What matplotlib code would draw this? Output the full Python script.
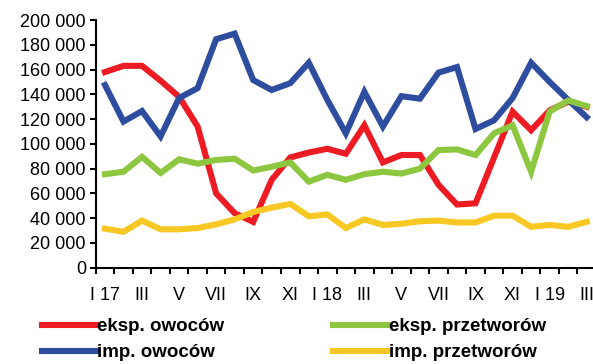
import matplotlib
matplotlib.use("Agg")
import matplotlib.pyplot as plt
from matplotlib.ticker import FuncFormatter

plt.rcParams['font.family'] = ['Liberation Sans', 'DejaVu Sans']

# months I 2017 .. III 2019
months = ['I 17', 'II', 'III', 'IV', 'V', 'VI', 'VII', 'VIII', 'IX', 'X', 'XI', 'XII',
          'I 18', 'II', 'III', 'IV', 'V', 'VI', 'VII', 'VIII', 'IX', 'X', 'XI', 'XII',
          'I 19', 'II', 'III']

eksp_owocow = [158000, 163000, 163000, 151000, 138000, 114000, 60000, 44000, 37000,
               71000, 89000, 93000, 96000, 92000, 115000, 85000, 91000, 91000,
               67000, 51000, 52000, 89000, 126000, 111000, 127000, 134000, 130000]
imp_owocow = [147500, 118000, 126500, 106000, 137000, 145000, 184500, 189000, 151500,
              143500, 149000, 165500, 135500, 108500, 142000, 114000, 138500, 136500,
              157500, 162000, 112000, 119000, 137000, 165500, 150000, 135500, 121500]
eksp_przetw = [75500, 77500, 89500, 76500, 87500, 84000, 87000, 88000, 78500,
               81500, 85000, 69500, 75000, 71000, 75500, 77500, 76000, 80000,
               95000, 95500, 91000, 108500, 115000, 77500, 126000, 135000, 130500]
imp_przetw = [31500, 29000, 38000, 31000, 31000, 32000, 35000, 39000, 45000,
              48500, 51500, 41500, 43000, 32000, 39000, 34500, 35500, 37500,
              38000, 36500, 36500, 42000, 42000, 33000, 34500, 33000, 37000]

series = [
    ('eksp. owoców', eksp_owocow, '#ED1C24'),
    ('imp. owoców', imp_owocow, '#2E4D9F'),
    ('eksp. przetworów', eksp_przetw, '#8DC63F'),
    ('imp. przetworów', imp_przetw, '#F7C824'),
]

fig = plt.figure(figsize=(5.93, 3.64), dpi=100)
ax = fig.add_axes([0.1614, 0.2646, 0.8436, 0.6804])

x = list(range(len(months)))
for name, vals, col in series:
    ax.plot(x, vals, color=col, lw=4.4, label=name, solid_joinstyle='miter')

ax.set_xlim(-0.5, len(months) - 0.5)
ax.set_ylim(0, 200000)
ax.set_yticks(range(0, 200001, 20000))
ax.yaxis.set_major_formatter(FuncFormatter(lambda v, p: f'{int(v):,}'.replace(',', ' ')))

# tick marks between months, labels every second month
ax.set_xticks([i - 0.5 for i in range(len(months) + 1)])
ax.set_xticklabels([])
ax.set_xticks(x[::2], minor=True)
ax.set_xticklabels(months[::2], minor=True)
ax.tick_params(axis='x', which='major', direction='out', length=4, width=1.5)
ax.tick_params(axis='x', which='minor', length=0, pad=14, labelsize=13)
ax.tick_params(axis='y', direction='out', length=4, width=1.5, labelsize=13, pad=3)

for s in ['top', 'right']:
    ax.spines[s].set_visible(False)
for s in ['left', 'bottom']:
    ax.spines[s].set_linewidth(1.5)

fig.legend(loc='upper left', bbox_to_anchor=(0.071, 0.126), ncol=2, frameon=False,
           prop={'weight': 'bold', 'size': 13.5}, handlelength=2.85, handletextpad=0.1,
           columnspacing=5.8, borderpad=0, borderaxespad=0, labelspacing=0.48)

fig.savefig('out.png', dpi=100)
